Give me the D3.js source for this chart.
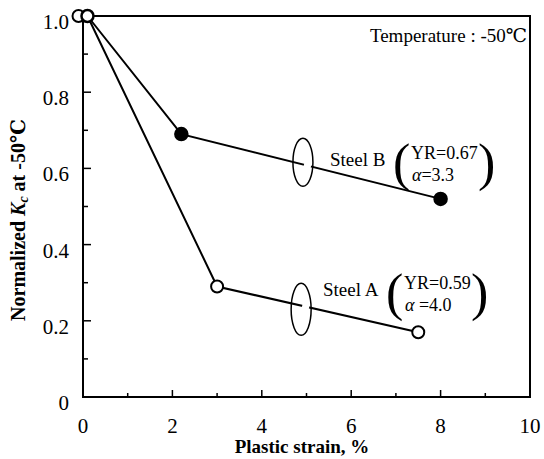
<!DOCTYPE html>
<html lang="en">
<head>
<meta charset="UTF-8">
<title>Normalized Kc vs plastic strain</title>
<script src="https://d3js.org/d3.v7.min.js"></script>
<style>
    body { margin: 0; background: white; }
    #chart text { font-family: "Liberation Serif", "DejaVu Serif", serif; }
</style>
</head>
<body>
<svg id="chart"></svg>
<script>
    // data
    var steelAStrain = [-0.1, 3.0, 7.5];
    var steelAKc = [1.0, 0.29, 0.17];
    var steelBStrain = [0.1, 2.2, 8.0];
    var steelBKc = [1.0, 0.69, 0.52];
    var xTicks = [0, 2, 4, 6, 8, 10];
    var yTicks = [0, 0.2, 0.4, 0.6, 0.8, 1.0];
    var yTickLabels = ["0", "0.2", "0.4", "0.6", "0.8", "1.0"];

    var width = 544, height = 459;
    var svg = d3.select("#chart").attr("width", width).attr("height", height);

    var x = d3.scaleLinear().domain([0, 10]).range([83, 530]);
    var y = d3.scaleLinear().domain([0, 1]).range([397, 16]);

    // frame
    svg.append("rect")
        .attr("x", x(0)).attr("y", y(1))
        .attr("width", x(10) - x(0)).attr("height", y(0) - y(1))
        .attr("fill", "none").attr("stroke", "black").attr("stroke-width", 2);

    // ticks pointing inward
    var g = svg.append("g");
    d3.range(1, 10).forEach(function (v) {
        var len = v % 2 === 0 ? 7 : 4;
        g.append("line").attr("x1", x(v)).attr("x2", x(v))
            .attr("y1", y(0)).attr("y2", y(0) - len)
            .attr("stroke", "black").attr("stroke-width", 1.5);
    });
    d3.range(1, 10).forEach(function (i) {
        var v = i / 10;
        var len = i % 2 === 0 ? 8 : 5;
        g.append("line").attr("x1", x(0)).attr("x2", x(0) + len)
            .attr("y1", y(v)).attr("y2", y(v))
            .attr("stroke", "black").attr("stroke-width", 1.5);
    });

    // tick labels
    svg.selectAll(".xl").data(xTicks).enter().append("text")
        .attr("font-size", "21px")
        .attr("x", function (d) { return x(d); })
        .attr("y", y(0) + 36)
        .attr("text-anchor", "middle")
        .text(function (d) { return d; });

    svg.selectAll(".yl").data(yTicks).enter().append("text")
        .attr("font-size", "21px")
        .attr("x", x(0) - 14)
        .attr("y", function (d) { return y(d) + 13; })
        .attr("text-anchor", "end")
        .text(function (d, i) { return yTickLabels[i]; });

    // axis titles
    svg.append("text")
        .attr("font-size", "19px").attr("font-weight", "bold")
        .attr("x", 302).attr("y", 453)
        .attr("text-anchor", "middle")
        .text("Plastic strain, %");

    var yt = svg.append("text")
        .attr("font-size", "20px").attr("font-weight", "bold")
        .attr("transform", "translate(25,220) rotate(-90)")
        .attr("text-anchor", "middle");
    yt.append("tspan").text("Normalized ");
    yt.append("tspan").attr("font-style", "italic").text("K");
    yt.append("tspan").attr("font-style", "italic").attr("font-size", "14px").attr("dy", 3).text("c");
    yt.append("tspan").attr("dy", -3).text(" at -50\u2103");

    svg.append("text")
        .attr("font-size", "19px")
        .attr("x", 527).attr("y", 42)
        .attr("text-anchor", "end")
        .text("Temperature : -50\u2103");

    // series
    var line = d3.line().x(function (d) { return x(d[0]); }).y(function (d) { return y(d[1]); });
    var ptsA = steelAStrain.map(function (v, i) { return [v, steelAKc[i]]; });
    var ptsB = steelBStrain.map(function (v, i) { return [v, steelBKc[i]]; });

    // both curves leave from the Steel B start point
    svg.append("path").attr("d", line(ptsB.slice(0, 1).concat(ptsA.slice(1))))
        .attr("fill", "none").attr("stroke", "black").attr("stroke-width", 2);
    svg.append("path").attr("d", line(ptsB))
        .attr("fill", "none").attr("stroke", "black").attr("stroke-width", 2);

    // loop markers around the lines (line passes behind the ring)
    function loop(cx, cy, rx, ry, p0, p1) {
        var px = x(cx), py = y(cy);
        var t = (cx - p0[0]) / (p1[0] - p0[0]);
        var ly = y(p0[1] + t * (p1[1] - p0[1]));
        var slope = (y(p1[1]) - y(p0[1])) / (x(p1[0]) - x(p0[0]));
        svg.append("line")
            .attr("x1", px + 1).attr("y1", ly + slope)
            .attr("x2", px + rx - 2).attr("y2", ly + slope * (rx - 2))
            .attr("stroke", "white").attr("stroke-width", 4);
        svg.append("ellipse")
            .attr("cx", px).attr("cy", py).attr("rx", rx).attr("ry", ry)
            .attr("fill", "none").attr("stroke", "black").attr("stroke-width", 1.5);
    }
    loop(4.92, 0.616, 10, 24, ptsB[1], ptsB[2]);
    loop(4.88, 0.23, 10, 26, ptsA[1], ptsA[2]);

    svg.selectAll(".pa").data(ptsA).enter().append("circle")
        .attr("cx", function (d) { return x(d[0]); })
        .attr("cy", function (d) { return y(d[1]); })
        .attr("r", 6).attr("fill", "white").attr("stroke", "black").attr("stroke-width", 2);
    svg.selectAll(".pb").data(ptsB).enter().append("circle")
        .attr("cx", function (d) { return x(d[0]); })
        .attr("cy", function (d) { return y(d[1]); })
        .attr("r", 6)
        .attr("fill", function (d, i) { return i === 0 ? "white" : "black"; })
        .attr("stroke", "black").attr("stroke-width", 2.5);

    function label(name, tx, ty, yr, alpha) {
        svg.append("text").attr("font-size", "19px").attr("x", tx).attr("y", ty).text(name);
        svg.append("text").attr("x", tx + 63).attr("y", ty + 14)
            .attr("font-size", "52px").text("(");
        svg.append("text").attr("font-size", "18px").attr("x", tx + 81).attr("y", ty - 7).text(yr);
        var t = svg.append("text").attr("font-size", "18px").attr("x", tx + 82).attr("y", ty + 15);
        t.append("tspan").attr("font-style", "italic").text("\u03b1");
        t.append("tspan").text(alpha);
        svg.append("text").attr("x", tx + 148).attr("y", ty + 14)
            .attr("font-size", "52px").text(")");
    }
    label("Steel B", 330, 166, "YR=0.67", "=3.3");
    label("Steel A", 323, 296, "YR=0.59", " =4.0");
</script>
</body>
</html>
